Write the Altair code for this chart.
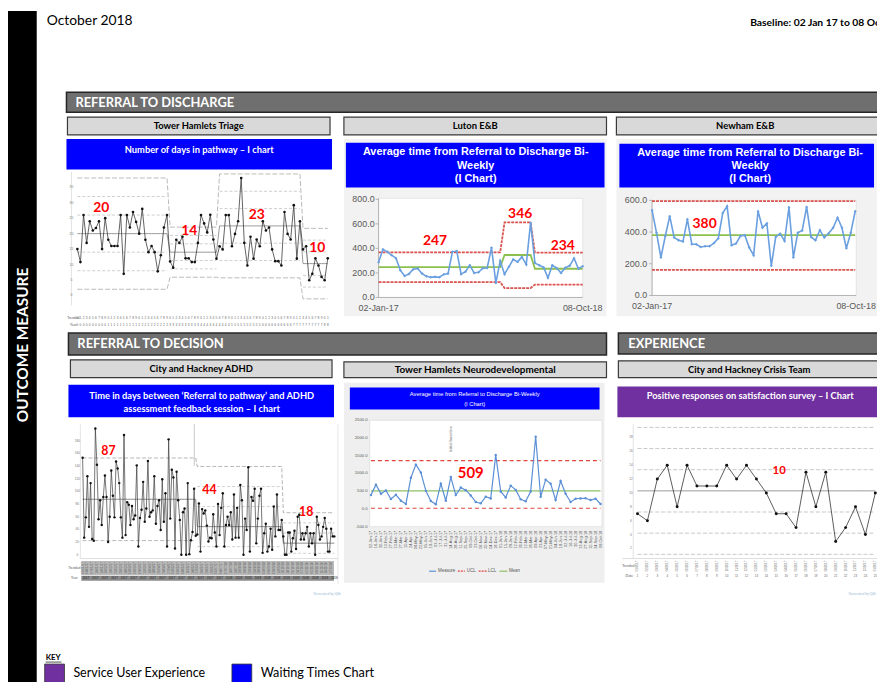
import altair as alt
import pandas as pd

# ---------------- page / canvas ----------------
OX, OY = 8, 8          # page margin; all layout numbers below are page pixels
W, H = 877, 674
SANS = "Lato, sans-serif"
ARIAL = "Liberation Sans, Arial, sans-serif"

# ---------------- data ----------------
# Tower Hamlets Triage (days in pathway)
triage_values = [15, 10.8, 26, 17, 24, 21, 21.8, 24, 15, 25, 18, 16, 16, 16, 26, 7, 26, 22, 27, 23.8,
                 20, 28, 18, 14, 16, 14, 7.8, 13, 22, 26,
                 11, 9, 18, 17, 19, 12, 12, 10.8, 10.8, 17, 26, 23.3, 20.4, 26.1, 18.1, 11.9,
                 15.9, 14.9, 26, 26, 15.9, 19.9, 24, 38, 17, 9.7, 19, 11.9, 18.1, 15.9, 24, 21, 22, 14.9,
                 11.1, 11.1, 9.7, 27, 19.9, 18.1, 29.2, 11.9, 24,
                 14.9, 15.9, 4.9, 7, 12, 9.7, 6, 4.9, 12]
triage_seg_start = [0, 30, 46, 73]
triage_seg_mean = [20, 14, 22.5, 10.3]
triage_seg_sd = [6, 2.7, 5.6, 3.8]
triage_ticks = [0, 5, 10, 15, 20, 25, 30, 35]
triage_label_text = ["20", "14", "23", "10"]
triage_label_i = [7.7, 36.2, 58, 77.6]
triage_label_v = [28.2, 20.8, 26, 15.4]

# Luton E&B
luton_values = [287, 392, 372, 345, 320, 222, 175, 192, 230, 236, 195, 172, 165, 168, 165, 188, 195, 372,
                378, 190, 210, 262, 200, 205, 238, 240, 405, 118, 298, 190, 250, 310, 290, 330, 268, 610,
                280, 262, 245, 160, 262, 240, 200, 242, 258, 320, 235, 255]
luton_seg_start = [0, 29, 36]
luton_seg_mean = [247, 346, 234]
luton_seg_ucl = [368, 612, 365]
luton_seg_lcl = [125, 76, 105]
luton_ticks = [0, 200, 400, 600, 800]
luton_label_text = ["247", "346", "234"]
luton_label_i = [13, 32.6, 42.4]
luton_label_v = [460, 679, 420]

# Newham E&B
newham_values = [537, 396, 240, 375, 500, 365, 348, 340, 480, 323, 323, 306, 310, 310, 330, 360, 520, 562,
                 317, 327, 375, 380, 302, 254, 531, 427, 454, 187, 369, 390, 344, 556, 240, 396, 410, 558,
                 369, 348, 412, 365, 392, 427, 490, 427, 298, 396, 531]
newham_mean, newham_ucl, newham_lcl = 380, 595, 162
newham_ticks = [0, 200, 400, 600]
newham_label_text = ["380"]
newham_label_i = [11.9]
newham_label_v = [448]

# City and Hackney ADHD
adhd_values = [153, 27, 59, 124, 44, 113, 25, 22, 199, 142, 56, 86, 47, 91, 125, 91, 20, 60, 133, 93,
               59, 147, 136, 113, 59, 27, 189, 31, 83, 79, 47, 77, 56, 62, 141, 13, 58, 71, 115, 52,
               73, 148, 60, 67, 70, 124, 49, 77, 86, 39, 119, 52, 97, 13, 182, 57, 134, 122, 10, 131,
               86, 55, 0, 67, 73, 0, 113, 1, 23, 36, 104, 30,
               32, 81, 5, 72, 65,
               70, 46, 21, 27, 26, 64, 35, 13, 80, 31, 74, 97, 13, 47, 60, 47, 67, 24, 95, 27,
               74, 27, 110, 86, 0, 57, 39, 138, 5, 91, 85, 104, 18, 57, 93, 104, 3, 34, 49, 5,
               13, 41, 8, 76, 29, 95, 39, 39, 55,
               29, 0, 0, 35, 35, 5, 26, 38, 9, 60, 63, 24, 34, 24, 34, 44, 13, 34, 18, 34,
               0, 60, 47, 24, 29, 44, 58, 41, 5, 5, 41, 29, 29]
adhd_seg_start = [0, 72, 126]
adhd_seg_mean = [87.5, 44.4, 18.3]
adhd_seg_sd = [21.7, 31.6, 16.0]
adhd_seg_bands = [False, True, True]
adhd_ticks = [0, 20, 40, 60, 80, 100, 120, 140, 160, 180]
adhd_label_text = ["87", "44", "18"]
adhd_label_i = [16.2, 79.6, 140.4]
adhd_label_v = [163, 101.6, 67.5]

# Tower Hamlets Neurodevelopmental
neuro_dates = ["02-Jan-17", "16-Jan-17", "30-Jan-17", "13-Feb-17", "27-Feb-17", "13-Mar-17", "27-Mar-17",
               "10-Apr-17", "24-Apr-17", "08-May-17", "22-May-17", "05-Jun-17", "19-Jun-17", "03-Jul-17",
               "17-Jul-17", "31-Jul-17", "14-Aug-17", "28-Aug-17", "11-Sep-17", "25-Sep-17", "09-Oct-17",
               "23-Oct-17", "06-Nov-17", "20-Nov-17", "04-Dec-17", "18-Dec-17", "01-Jan-18", "15-Jan-18",
               "29-Jan-18", "12-Feb-18", "26-Feb-18", "12-Mar-18", "26-Mar-18", "09-Apr-18", "23-Apr-18",
               "07-May-18", "21-May-18", "04-Jun-18", "18-Jun-18", "02-Jul-18", "16-Jul-18", "30-Jul-18",
               "13-Aug-18", "27-Aug-18", "10-Sep-18", "24-Sep-18", "08-Oct-18"]
neuro_values = [389, 685, 426, 518, 278, 398, 231, 139, 880, 1250, 1028, 509, 222, 130, 713, 231, 898, 389,
                602, 528, 380, 194, 157, 343, 296, 1519, 491, 324, 657, 537, 269, 213, 491, 2037, 343, 824,
                713, 250, 787, 426, 194, 287, 296, 300, 250, 289, 139]
neuro_mean, neuro_ucl, neuro_lcl = 509, 1365, 18
neuro_ticks = [-500, 0, 500, 1000, 1500, 2000, 2500]
neuro_label_text = ["509"]
neuro_label_i = [20]
neuro_label_v = [1018]

# City and Hackney Crisis Team
crisis_values = [7, 6, 12, 14, 8, 14, 11, 11, 11, 14, 12, 14, 12, 10, 7, 7, 5, 13, 8, 13, 3, 5, 8, 4, 10]
crisis_mean, crisis_sd = 10.3, 3.05
crisis_ticks = [2, 4, 6, 8, 10, 12, 14, 16, 18]
crisis_label_text = ["10"]
crisis_label_i = [14.3]
crisis_label_v = [13.2]

# ---------------- helpers ----------------
ONE = alt.Data(values=[{"k": 0}])


def rect(x0, y0, x1, y1, fill, stroke=None, sw=0.0):
    kw = dict(fill=fill, strokeWidth=sw)
    if stroke:
        kw["stroke"] = stroke
    return alt.Chart(ONE).mark_rect(**kw).encode(
        x=alt.value(x0 - OX), x2=alt.value(x1 - OX), y=alt.value(y0 - OY), y2=alt.value(y1 - OY))


def rule(x0, y0, x1, y1, color, sw=1.0, dash=None):
    kw = dict(color=color, strokeWidth=sw)
    if dash:
        kw["strokeDash"] = dash
    return alt.Chart(ONE).mark_rule(**kw).encode(
        x=alt.value(x0 - OX), x2=alt.value(x1 - OX), y=alt.value(y0 - OY), y2=alt.value(y1 - OY))


def label(x, y, s, size=10, color="black", weight="normal", align="center", font=SANS, angle=0,
          baseline="middle"):
    kw = dict(text=s, fontSize=size, color=color, fontWeight=weight, align=align, font=font,
              baseline=baseline)
    if angle:
        kw["angle"] = angle
    return alt.Chart(ONE).mark_text(**kw).encode(x=alt.value(x - OX), y=alt.value(y - OY))


def sx(d0, d1, p0, p1):
    return alt.Scale(domain=[d0, d1], range=[p0 - OX, p1 - OX], nice=False, zero=False)


def sy(d0, d1, pb, pt):
    return alt.Scale(domain=[d0, d1], range=[pb - OY, pt - OY], nice=False, zero=False)


def xy(xsc, ysc):
    return dict(x=alt.X("i:Q", scale=xsc, axis=None), y=alt.Y("v:Q", scale=ysc, axis=None))


def series(values):
    return pd.DataFrame({"i": list(range(len(values))), "v": values})


def seg_frame(n, starts, means, sds, ks, show=None, lo=None):
    bounds = starts[1:] + [n]
    rows = []
    for k in ks:
        for s, (a, b) in enumerate(zip(starts, bounds)):
            if show is not None and not show[s]:
                continue
            v = means[s] + k * sds[s]
            if lo is not None and v < lo:
                continue
            for i in range(a, b):
                rows.append({"i": i, "v": v, "k": str(k), "g": f"{k}_{s}"})
    return pd.DataFrame(rows)


def tick_labels(ticks, ysc, px, size, color, fmt, font=ARIAL, align="right"):
    df = pd.DataFrame({"v": ticks, "t": [fmt(t) for t in ticks]})
    return alt.Chart(df).mark_text(fontSize=size, color=color, align=align, baseline="middle",
                                   font=font).encode(
        x=alt.value(px - OX), y=alt.Y("v:Q", scale=ysc, axis=None), text="t:N")


def red_labels(texts, ii, vv, e, size):
    df = pd.DataFrame({"i": ii, "v": vv, "t": texts})
    return alt.Chart(df).mark_text(color="#ff0000", fontWeight="bold", fontSize=size, font=SANS,
                                   align="center", baseline="middle").encode(**e, text="t:N")


def index_text(idx, texts, xsc, py, size, color, angle=0, align="center"):
    df = pd.DataFrame({"i": list(idx), "t": texts})
    kw = dict(fontSize=size, color=color, align=align, baseline="middle", font=ARIAL)
    if angle:
        kw["angle"] = angle
    return alt.Chart(df).mark_text(**kw).encode(
        x=alt.X("i:Q", scale=xsc, axis=None), y=alt.value(py - OY), text="t:N")


layers = []

# ---------------- page furniture ----------------
layers += [
    rect(8, 8, 37, 700, "#000000"),
    label(23, 345, "OUTCOME MEASURE", size=15.5, color="white", weight="bold", angle=270),
    label(47, 18, "October 2018", size=14, align="left"),
    label(757, 20, "Baseline: 02 Jan 17 to 08 Oct 18", size=10.4, weight="bold", align="left"),
    # section bars
    rect(67, 90, 895, 110, "#6f6f6f", "#262626", 1.5),
    label(76, 100.5, "REFERRAL  TO DISCHARGE", size=13, color="white", weight="bold", align="left"),
    rect(69, 333, 612, 355, "#6f6f6f", "#262626", 1.5),
    label(78, 344.5, "REFERRAL  TO DECISION", size=13, color="white", weight="bold", align="left"),
    rect(624, 333, 895, 354, "#6f6f6f", "#262626", 1.5),
    label(634, 344, "EXPERIENCE", size=13, color="white", weight="bold", align="left"),
    # sub headers
    rect(68, 115, 333, 133, "#d9d9d9", "#3a3a3a", 1.2),
    label(200.5, 124.5, "Tower  Hamlets  Triage", size=9.5, weight="bold"),
    rect(347, 115, 612, 133, "#d9d9d9", "#3a3a3a", 1.2),
    label(479.5, 124.5, "Luton  E&B", size=9.5, weight="bold"),
    rect(622, 115, 895, 133, "#d9d9d9", "#3a3a3a", 1.2),
    label(752, 124.5, "Newham  E&B", size=9.5, weight="bold"),
    rect(71, 360, 335, 378, "#d9d9d9", "#3a3a3a", 1.2),
    label(203, 369.5, "City and Hackney ADHD", size=9.5, weight="bold"),
    rect(347, 362, 612, 378, "#d9d9d9", "#3a3a3a", 1.2),
    label(479.5, 370.5, "Tower  Hamlets  Neurodevelopmental", size=10, weight="bold"),
    rect(624, 361, 895, 378, "#d9d9d9", "#3a3a3a", 1.2),
    label(756, 370, "City and Hackney Crisis  Team", size=9.5, weight="bold"),
    # panel backgrounds
    rect(347, 137, 612, 316, "#f2f2f2"),
    rect(622, 137, 895, 316, "#f2f2f2"),
    rect(347, 383, 610, 585, "#efefef"),
    rect(382, 197, 588, 297, "#ffffff", "#d9d9d9", 0.6),
    rect(658, 199, 864, 295, "#ffffff", "#d9d9d9", 0.6),
    rect(373, 421, 607.5, 528.3, "#ffffff", "#d0d0d0", 0.5),
    # title boxes
    rect(67, 137, 335, 168, "#0000ff"),
    label(201, 148, "Number of days in pathway – I chart", size=9.4, color="white", weight="bold"),
    rect(349, 141, 610, 186, "#0000ff"),
    label(480, 150.5, "Average time from Referral to Discharge Bi-", size=11, color="white",
          weight="bold", font=ARIAL),
    label(480, 164, "Weekly", size=11, color="white", weight="bold", font=ARIAL),
    label(480, 177.5, "(I Chart)", size=11, color="white", weight="bold", font=ARIAL),
    rect(625, 142, 882, 186, "#0000ff"),
    label(757, 151, "Average time from Referral to Discharge Bi-", size=11, color="white",
          weight="bold", font=ARIAL),
    label(757, 164.5, "Weekly", size=11, color="white", weight="bold", font=ARIAL),
    label(757, 178, "(I Chart)", size=11, color="white", weight="bold", font=ARIAL),
    rect(69, 385, 337, 418, "#0000ff"),
    label(203.5, 396, "Time in days between  ‘Referral to pathway’  and ADHD", size=9.4, color="white",
          weight="bold"),
    label(203.5, 409.5, "assessment feedback session  – I chart", size=9.4, color="white", weight="bold"),
    rect(353, 388, 605, 410, "#0000ff"),
    label(479, 394.5, "Average time from Referral to Discharge Bi-Weekly", size=5.8, color="white",
          font=ARIAL),
    label(479, 405, "(I Chart)", size=5.8, color="white", font=ARIAL),
    rect(623, 387, 895, 418, "#7030a0"),
    label(757, 397, "Positive  responses  on  satisfaction  survey  – I Chart", size=9.4, color="white",
          weight="bold"),
    # QI chart frames
    rule(72, 170, 72, 305, "#d0d0d0", 0.6),
    rule(81, 425, 81, 560, "#d0d0d0", 0.6),
    rule(81, 560.5, 341, 560.5, "#c8c8c8", 0.6),
    rule(341, 425, 341, 586, "#e0e0e0", 0.8),
    rule(196, 425, 196, 467, "#b0b0b0", 0.7),
    rule(639, 425, 639, 560, "#d0d0d0", 0.6),
    rule(628, 560.5, 895, 560.5, "#c8c8c8", 0.6),
    rect(82, 563, 337, 577, "#b9b9b9"),
    rect(82, 578, 337, 583, "#8a8a8a"),
    # Luton / Newham axes
    rule(382, 197, 382, 297, "#a6a6a6", 0.8),
    rule(382, 297, 588, 297, "#a6a6a6", 0.8),
    rule(658, 199, 658, 295, "#a6a6a6", 0.8),
    rule(658, 295, 864, 295, "#a6a6a6", 0.8),
    label(382, 307.5, "02-Jan-17", size=9, color="#595959", font=ARIAL),
    label(588, 307.5, "08-Oct-18", size=9, color="#595959", font=ARIAL),
    label(658, 305.5, "02-Jan-17", size=9, color="#595959", font=ARIAL),
    label(864, 305.5, "08-Oct-18", size=9, color="#595959", font=ARIAL),
    # small table captions / credits
    label(74, 318, "Trended", size=3.5, color="#555555"),
    label(74, 325, "Year", size=3.5, color="#555555"),
    label(75, 570, "Trended", size=3.5, color="#555555"),
    label(75, 580, "Year", size=3.5, color="#555555"),
    label(634, 568, "Trended", size=3.5, color="#555555"),
    label(635, 578, "Date", size=3.5, color="#555555"),
    label(330, 596, "Generated by Qlik", size=3.5, color="#9ab7d3"),
    label(870, 596, "Generated by Qlik", size=3.5, color="#9ab7d3"),
    label(455, 440, "Initial baseline", size=4.2, color="#777777", angle=270, font=ARIAL),
    # Neuro legend
    rule(433, 573.3, 440, 573.3, "#5b8fd6", 1.2),
    label(442, 573.3, "Measure", size=4.5, color="#595959", align="left", font=ARIAL),
    rule(462, 573.3, 469, 573.3, "#e0463c", 1.2, [2, 1]),
    label(471, 573.3, "UCL", size=4.5, color="#595959", align="left", font=ARIAL),
    rule(483, 573.3, 491, 573.3, "#e0463c", 1.2, [2, 1]),
    label(492.5, 573.3, "LCL", size=4.5, color="#595959", align="left", font=ARIAL),
    rule(504, 573.3, 512, 573.3, "#8cc168", 1.2),
    label(513.5, 573.3, "Mean", size=4.5, color="#595959", align="left", font=ARIAL),
    # key
    label(46, 660.5, "KEY", size=8, weight="bold", align="left"),
    rule(46, 665, 62, 665, "#000000", 0.7),
    rect(45, 667, 65, 686, "#7030a0", "#333333", 0.8),
    label(74, 676, "Service User Experience", size=12.6, align="left"),
    rect(234, 667, 254, 686, "#0000ff", "#333333", 0.8),
    label(263, 676, "Waiting Times Chart", size=12.8, align="left"),
]

# ---------------- Tower Hamlets Triage ----------------
n = len(triage_values)
TX = sx(0, n - 1, 78, 330.7)
TY = sy(0, 40, 295, 170.2)
e = xy(TX, TY)
t_df = series(triage_values)
t_lim = seg_frame(n, triage_seg_start, triage_seg_mean, triage_seg_sd, [-3, 3])
t_mid = seg_frame(n, triage_seg_start, triage_seg_mean, triage_seg_sd, [0])
t_sig = seg_frame(n, triage_seg_start, triage_seg_mean, triage_seg_sd, [-2, -1, 1, 2])
layers.append(alt.layer(
    alt.Chart(t_sig).mark_line(color="#b8b8b8", strokeWidth=0.7, strokeDash=[3, 2]).encode(**e, detail="g:N"),
    alt.Chart(t_lim).mark_line(color="#a8a8a8", strokeWidth=0.8, strokeDash=[5, 2]).encode(**e, detail="k:N"),
    alt.Chart(t_mid).mark_line(color="#8c8c8c", strokeWidth=0.9).encode(**e),
    alt.Chart(t_df).mark_line(color="#3a3a3a", strokeWidth=0.8).encode(**e),
    alt.Chart(t_df).mark_circle(color="#111111", size=7, opacity=1).encode(**e),
    tick_labels(triage_ticks, TY, 72, 3.5, "#777777", lambda t: str(t), align="center"),
    index_text(range(n), [str(i % 10) for i in range(n)], TX, 318, 3.2, "#666666"),
    index_text(range(n), [str((i // 10) % 10) for i in range(n)], TX, 325, 3.2, "#666666"),
    red_labels(triage_label_text, triage_label_i, triage_label_v, e, 14),
))

# ---------------- Luton E&B ----------------
n = len(luton_values)
LX = sx(0, n - 1, 382, 588)
LY = sy(0, 800, 297, 198)
e = xy(LX, LY)
l_df = series(luton_values)
l_rows = []
for kind, lv in (("ucl", luton_seg_ucl), ("lcl", luton_seg_lcl), ("mean", luton_seg_mean)):
    b = luton_seg_start[1:] + [n]
    for s, (a, z) in enumerate(zip(luton_seg_start, b)):
        for i in range(a, z):
            l_rows.append({"i": i, "v": lv[s], "k": kind})
l_lim = pd.DataFrame(l_rows)
layers.append(alt.layer(
    alt.Chart(l_lim[l_lim.k != "mean"]).mark_line(color="#d9534f", strokeWidth=1.8, strokeDash=[3, 1]).encode(**e, detail="k:N"),
    alt.Chart(l_lim[l_lim.k == "mean"]).mark_line(color="#8cc152", strokeWidth=1.8).encode(**e),
    alt.Chart(l_df).mark_line(color="#6a9fe0", strokeWidth=1.6).encode(**e),
    alt.Chart(l_df).mark_point(color="#6a9fe0", filled=True, size=9, shape="diamond", opacity=1).encode(**e),
    tick_labels(luton_ticks, LY, 378, 9, "#595959", lambda t: f"{t:.1f}"),
    alt.Chart(pd.DataFrame({"v": luton_ticks})).mark_rule(color="#a6a6a6", strokeWidth=0.8).encode(
        x=alt.value(379 - OX), x2=alt.value(382 - OX), y=alt.Y("v:Q", scale=LY, axis=None)),
    red_labels(luton_label_text, luton_label_i, luton_label_v, e, 14),
))

# ---------------- Newham E&B ----------------
n = len(newham_values)
NX = sx(0, n - 1, 658, 863)
NY = sy(0, 600, 295, 199)
e = xy(NX, NY)
nw_df = series(newham_values)
nw_lim = pd.DataFrame({"i": [0, n - 1, 0, n - 1, 0, n - 1],
                       "v": [newham_ucl, newham_ucl, newham_lcl, newham_lcl, newham_mean, newham_mean],
                       "k": ["ucl", "ucl", "lcl", "lcl", "mean", "mean"]})
layers.append(alt.layer(
    alt.Chart(nw_lim[nw_lim.k != "mean"]).mark_line(color="#d9534f", strokeWidth=1.8, strokeDash=[3, 1]).encode(**e, detail="k:N"),
    alt.Chart(nw_lim[nw_lim.k == "mean"]).mark_line(color="#8cc152", strokeWidth=1.8).encode(**e),
    alt.Chart(nw_df).mark_line(color="#6a9fe0", strokeWidth=1.6).encode(**e),
    alt.Chart(nw_df).mark_point(color="#6a9fe0", filled=True, size=9, shape="diamond", opacity=1).encode(**e),
    tick_labels(newham_ticks, NY, 653, 9, "#595959", lambda t: f"{t:.1f}"),
    alt.Chart(pd.DataFrame({"v": newham_ticks})).mark_rule(color="#a6a6a6", strokeWidth=0.8).encode(
        x=alt.value(655 - OX), x2=alt.value(658 - OX), y=alt.Y("v:Q", scale=NY, axis=None)),
    red_labels(newham_label_text, newham_label_i, newham_label_v, e, 14),
))

# ---------------- City and Hackney ADHD ----------------
n = len(adhd_values)
AX = sx(0, n - 1, 83.3, 337.3)
AY = sy(0, 180, 556.7, 441.5)
e = xy(AX, AY)
a_df = series(adhd_values)
a_lim = seg_frame(n, adhd_seg_start, adhd_seg_mean, adhd_seg_sd, [-3, 3], lo=-2)
a_mid = seg_frame(n, adhd_seg_start, adhd_seg_mean, adhd_seg_sd, [0])
a_sig = seg_frame(n, adhd_seg_start, adhd_seg_mean, adhd_seg_sd, [-2, -1, 1, 2], show=adhd_seg_bands, lo=-2)
a_tab = list(range(0, n, 3))
a_year = list(range(2, n, 6))
layers.append(alt.layer(
    alt.Chart(a_sig).mark_line(color="#b8b8b8", strokeWidth=0.7, strokeDash=[3, 2]).encode(**e, detail="g:N"),
    alt.Chart(a_lim).mark_line(color="#a0a0a0", strokeWidth=0.8, strokeDash=[4, 2]).encode(**e, detail="k:N"),
    alt.Chart(a_mid).mark_line(color="#7a7a7a", strokeWidth=0.9).encode(**e),
    alt.Chart(a_df).mark_line(color="#3a3a3a", strokeWidth=0.7).encode(**e),
    alt.Chart(a_df).mark_circle(color="#111111", size=6, opacity=1).encode(**e),
    tick_labels(adhd_ticks, AY, 78, 3.2, "#777777", lambda t: str(t), align="center"),
    index_text(a_tab, [f"{(i % 28) + 1:02d}/{(i // 14) % 12 + 1:02d}/1{7 + i // 90}" for i in a_tab],
               AX, 570, 3.0, "#555555", angle=270),
    index_text(a_year, ["2017" if i < 90 else "2018" for i in a_year], AX, 580.5, 3.0, "#222222"),
    red_labels(adhd_label_text, adhd_label_i, adhd_label_v, e, 12.5),
))

# ---------------- Tower Hamlets Neurodevelopmental ----------------
n = len(neuro_values)
RX = sx(0, n - 1, 374.3, 606)
RY = sy(-500, 2500, 528.3, 421)
e = xy(RX, RY)
r_df = series(neuro_values)
r_lim = pd.DataFrame({"i": [0, n - 1, 0, n - 1, 0, n - 1],
                      "v": [neuro_ucl, neuro_ucl, neuro_lcl, neuro_lcl, neuro_mean, neuro_mean],
                      "k": ["ucl", "ucl", "lcl", "lcl", "mean", "mean"]})
layers.append(alt.layer(
    alt.Chart(r_lim[r_lim.k != "mean"]).mark_line(color="#e0463c", strokeWidth=1.2, strokeDash=[4, 3]).encode(**e, detail="k:N"),
    alt.Chart(r_lim[r_lim.k == "mean"]).mark_line(color="#8cc168", strokeWidth=1.2).encode(**e),
    alt.Chart(r_df).mark_line(color="#5b8fd6", strokeWidth=1.2).encode(**e),
    alt.Chart(r_df).mark_circle(color="#5b8fd6", size=6, opacity=1).encode(**e),
    tick_labels(neuro_ticks, RY, 371, 4.3, "#595959", lambda t: f"{t:.1f}"),
    index_text(range(n), neuro_dates, RX, 532.5, 3.9, "#595959", angle=270, align="right"),
    red_labels(neuro_label_text, neuro_label_i, neuro_label_v, e, 15),
))

# ---------------- City and Hackney Crisis Team ----------------
n = len(crisis_values)
CX = sx(0, n - 1, 643.3, 883.3)
CY = sy(2, 18, 550.3, 438.3)
e = xy(CX, CY)
c_df = series(crisis_values)
c_lim = seg_frame(n, [0], [crisis_mean], [crisis_sd], [-3, -2, -1, 1, 2, 3])
c_mid = seg_frame(n, [0], [crisis_mean], [crisis_sd], [0])
layers.append(alt.layer(
    alt.Chart(c_lim).mark_line(color="#b0b0b0", strokeWidth=0.7, strokeDash=[4, 2]).encode(**e, detail="k:N"),
    alt.Chart(c_mid).mark_line(color="#8c8c8c", strokeWidth=0.9).encode(**e),
    alt.Chart(c_df).mark_line(color="#333333", strokeWidth=0.8).encode(**e),
    alt.Chart(c_df).mark_circle(color="#111111", size=9, opacity=1).encode(**e),
    tick_labels(crisis_ticks, CY, 636.7, 3.2, "#777777", lambda t: str(t), align="center"),
    index_text(range(n), [f"{(i % 12) + 1:02d}/2017" for i in range(n)], CX, 568, 3.0, "#666666", angle=270),
    index_text(range(n), [str(i + 1) for i in range(n)], CX, 578, 3.0, "#666666"),
    red_labels(crisis_label_text, crisis_label_i, crisis_label_v, e, 11.5),
))

chart = alt.layer(*layers).resolve_scale(x="independent", y="independent").properties(
    width=W, height=H, padding=0, background="white",
    autosize=alt.AutoSizeParams(type="none"),
).configure_view(stroke=None)

chart.save("out.html", embed_options={"renderer": "svg", "actions": False})
